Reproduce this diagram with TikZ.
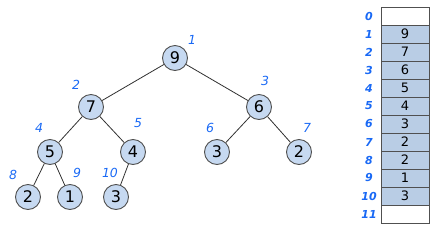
\documentclass[tikz,border=0pt]{standalone}
\usepackage{fontspec}
\setmainfont{DejaVu Sans}
\usetikzlibrary{positioning}
\definecolor{hpblue}{RGB}{25,105,245}
\definecolor{hpfill}{RGB}{198,217,241}
\definecolor{hpcell}{RGB}{185,205,229}
\definecolor{hpline}{RGB}{80,80,80}
\tikzset{
  heapnode/.style={circle,draw=hpline,fill=hpfill,line width=0.9pt,
    minimum size=25pt,inner sep=0pt,font=\fontsize{16}{16}\selectfont},
  heapedge/.style={draw=black!80,line width=0.8pt},
  treeidx/.style={text=hpblue,font=\itshape\fontsize{12.5}{12.5}\selectfont},
  arridx/.style={text=hpblue,font=\bfseries\itshape\fontsize{11}{11}\selectfont},
  arrcell/.style={draw=hpline,line width=0.7pt,minimum width=48pt,
    minimum height=18pt,inner sep=0pt,font=\fontsize{13}{13}\selectfont},
}
\newcommand{\hnode}[4]{\node[heapnode] (n#1) at (#2,#3) {#4};}
\newcommand{\hidx}[3]{\node[treeidx] (l#1) at (#2,#3) {#1};}

\begin{document}
\begin{tikzpicture}[x=1pt,y=-1pt]
  \useasboundingbox (0,0) rectangle (437,231);
  % tree
  \hnode{1}{175}{58}{9}
  \hnode{2}{91}{107}{7}\hnode{3}{259}{107}{6}
  \hnode{4}{50}{152}{5}\hnode{5}{133}{152}{4}
  \hnode{6}{217}{152}{3}\hnode{7}{299}{152}{2}
  \hnode{8}{28}{197}{2}\hnode{9}{70}{197}{1}\hnode{10}{116}{197}{3}
  \foreach \a/\b in {1/2,1/3,2/4,2/5,3/6,3/7,4/8,4/9,5/10}
    \draw[heapedge] (n\a) -- (n\b);
  \hidx{1}{192}{40}\hidx{2}{76}{85}\hidx{3}{265}{81}
  \hidx{4}{39}{128}\hidx{5}{138}{123}\hidx{6}{210}{128}\hidx{7}{307}{128}
  \hidx{8}{13}{175}\hidx{9}{77}{173}\hidx{10}{110}{173}
  % array
  \node[arrcell,fill=white] (c0) at (405,16) {};
  \foreach \r/\v in {1/9,2/7,3/6,4/5,5/4,6/3,7/2,8/2,9/1,10/3}
    \node[arrcell,fill=hpcell] (c\r) at (405,{16+18*\r}) {\v};
  \node[arrcell,fill=white] (c11) at (405,214) {};
  \foreach \r in {0,...,11}
    \node[arridx] (a\r) at (369,{16+18*\r}) {\r};
\end{tikzpicture}
\end{document}
